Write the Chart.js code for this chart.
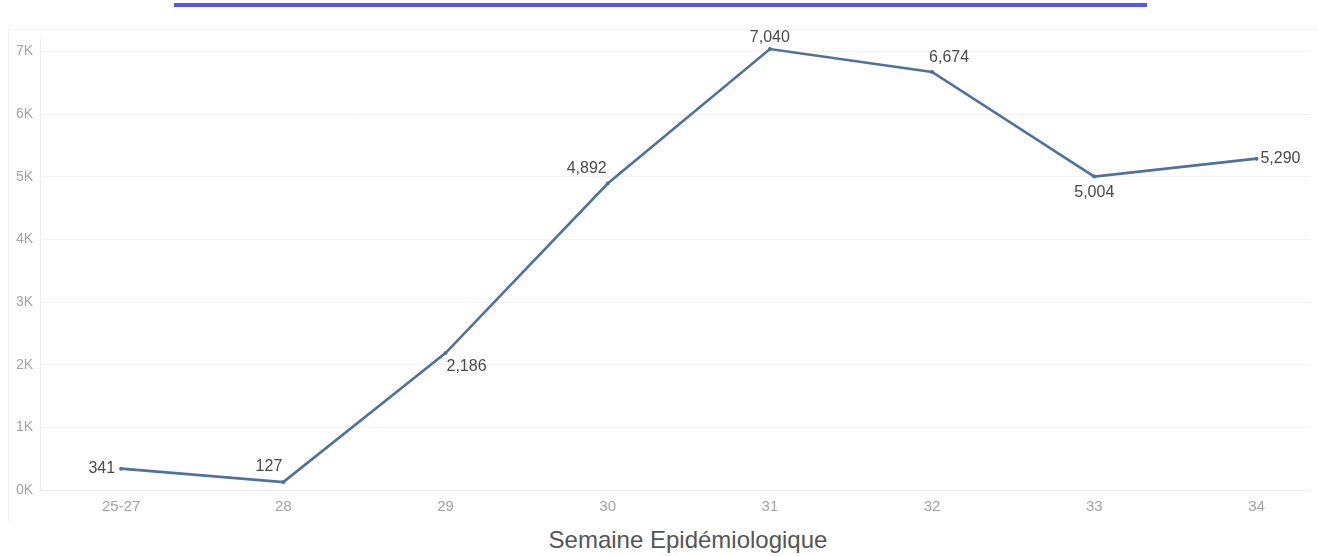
<!DOCTYPE html>
<html>
<head>
<meta charset="utf-8">
<script src="https://cdn.jsdelivr.net/npm/chart.js@4.4.1/dist/chart.umd.min.js"></script>
<style>
  html, body { margin: 0; padding: 0; background: #fff; }
  body { width: 1318px; height: 556px; position: relative; overflow: hidden; font-family: "Liberation Sans", Arial, sans-serif; }
  #lien { position: absolute; left: 174px; top: 3px; width: 973px; height: 4px; background: #5555ff; }
  #cadre { position: absolute; left: 8px; top: 29px; width: 1309px; height: 492px; border-left: 1px solid #f3f3f3; border-top: 1px solid #f5f5f5; }
  #zone { position: absolute; left: 0; top: 0; width: 1318px; height: 520px; }
  #titreX { position: absolute; left: 0; top: 526px; width: 1376px; text-align: center; font-size: 24px; color: #555; line-height: 28px; }
</style>
</head>
<body>
<div id="lien"></div>
<div id="cadre"></div>
<div id="zone"><canvas id="courbe"></canvas></div>
<div id="titreX">Semaine Epidémiologique</div>

<script>
// Semaines épidémiologiques et nombre de cas
const semaines = ['25-27', '28', '29', '30', '31', '32', '33', '34'];
const cas = [341, 127, 2186, 4892, 7040, 6674, 5004, 5290];
const ticksY = [0, 1000, 2000, 3000, 4000, 5000, 6000, 7000];

// ou placer l'etiquette de chaque point
const placement = ['left', 'aboveLeft', 'belowRight', 'aboveLeft', 'above', 'aboveRight', 'below', 'right'];

const bleu = '#4e72a0';

// plugin : etiquettes des valeurs a cote des points
const etiquettes = {
    id: 'etiquettes',
    afterDatasetsDraw(chart) {
        const ctx = chart.ctx;
        const pts = chart.getDatasetMeta(0).data;
        ctx.save();
        ctx.font = '16px "Liberation Sans", Arial, sans-serif';
        ctx.fillStyle = '#4a4a4a';
        ctx.textBaseline = 'middle';
        pts.forEach((p, i) => {
            const txt = cas[i].toLocaleString('en-US');
            let x = p.x, y = p.y;
            switch (placement[i]) {
                case 'left': ctx.textAlign = 'right'; x -= 6; break;
                case 'right': ctx.textAlign = 'left'; x += 4; break;
                case 'above': ctx.textAlign = 'center'; y -= 11; break;
                case 'below': ctx.textAlign = 'center'; y += 16; break;
                case 'aboveLeft': ctx.textAlign = 'right'; x -= 1; y -= 15; break;
                case 'aboveRight': ctx.textAlign = 'left'; x -= 3; y -= 14; break;
                case 'belowRight': ctx.textAlign = 'left'; x += 1; y += 14; break;
            }
            ctx.fillText(txt, x, y);
        });
        ctx.restore();
    }
};

new Chart(document.getElementById('courbe'), {
    type: 'line',
    data: {
        datasets: [{
            data: cas.map((v, i) => ({ x: i, y: v })),
            borderColor: bleu,
            backgroundColor: bleu,
            borderWidth: 2.6,
            pointRadius: 2,
            pointBorderWidth: 0,
            tension: 0
        }]
    },
    options: {
        responsive: true,
        maintainAspectRatio: false,
        animation: false,
        layout: { padding: { top: 39, right: 8, left: 0, bottom: 0 } },
        plugins: { legend: { display: false }, tooltip: { enabled: false } },
        scales: {
            x: {
                type: 'linear',
                min: -0.5,
                max: 7.33,
                afterBuildTicks: s => { s.ticks = semaines.map((_, i) => ({ value: i })); },
                afterFit: s => { s.height = 30; },
                grid: { display: false, drawTicks: false },
                border: { color: '#f0f0f0' },
                ticks: {
                    padding: 8,
                    color: '#a3a3a3',
                    font: { size: 15, family: '"Liberation Sans", Arial, sans-serif' },
                    callback: v => semaines[v]
                }
            },
            y: {
                min: 0,
                max: 7200,
                afterBuildTicks: s => { s.ticks = ticksY.map(v => ({ value: v })); },
                afterFit: s => { s.width = 40; },
                grid: { color: '#f2f2f2', drawTicks: false },
                border: { color: '#ededed' },
                ticks: {
                    padding: 7,
                    color: '#a3a3a3',
                    font: { size: 14, family: '"Liberation Sans", Arial, sans-serif' },
                    callback: v => (v / 1000) + 'K'
                }
            }
        }
    },
    plugins: [etiquettes]
});
</script>
</body>
</html>
